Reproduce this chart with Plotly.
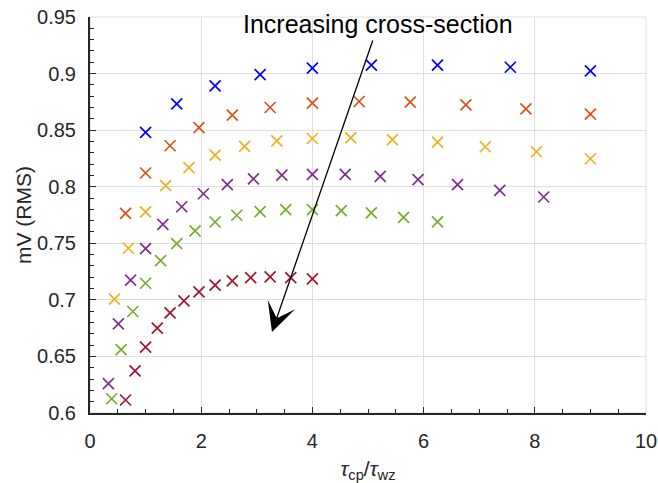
import plotly.graph_objects as go

# Signal level (mV RMS) against the ratio tau_cp / tau_wz, one series per cross-section
x_blue = [1.0, 1.56, 2.25, 3.06, 4.0, 5.06, 6.25, 7.56, 9.0]
y_blue = [0.848, 0.8733, 0.8891, 0.8991, 0.9048, 0.9074, 0.9074, 0.9056, 0.9024]

x_orange = [0.64, 1.0, 1.44, 1.96, 2.56, 3.24, 4.0, 4.84, 5.76, 6.76, 7.84, 9.0]
y_orange = [0.7765, 0.8121, 0.8362, 0.8523, 0.8633, 0.870, 0.8739, 0.8753, 0.8748, 0.8724, 0.8688, 0.8642]

x_yellow = [0.44, 0.69, 1.0, 1.36, 1.78, 2.25, 2.78, 3.36, 4.0, 4.69, 5.44, 6.25, 7.11, 8.03, 9.0]
y_yellow = [0.7006, 0.7456, 0.7777, 0.8009, 0.8168, 0.828, 0.8356, 0.8406, 0.8426, 0.8432, 0.8417, 0.8394, 0.8353, 0.8309, 0.8247]

x_purple = [0.33, 0.51, 0.73, 1.0, 1.31, 1.65, 2.04, 2.47, 2.94, 3.45, 4.0, 4.59, 5.22, 5.9, 6.61, 7.37, 8.16]
y_purple = [0.6259, 0.6788, 0.7174, 0.7453, 0.7668, 0.7823, 0.7938, 0.8018, 0.807, 0.8103, 0.8109, 0.8109, 0.8091, 0.8062, 0.8018, 0.7967, 0.7909]

x_green = [0.39, 0.56, 0.77, 1.0, 1.27, 1.56, 1.89, 2.25, 2.64, 3.06, 3.52, 4.0, 4.52, 5.06, 5.64, 6.25]
y_green = [0.6126, 0.6561, 0.6897, 0.7147, 0.7347, 0.7497, 0.7609, 0.7688, 0.7748, 0.7779, 0.7797, 0.7797, 0.7788, 0.7768, 0.7729, 0.7689]

x_red = [0.64, 0.81, 1.0, 1.21, 1.44, 1.69, 1.96, 2.25, 2.56, 2.89, 3.24, 3.61, 4.0]
y_red = [0.6115, 0.6373, 0.6583, 0.675, 0.6885, 0.6991, 0.7071, 0.713, 0.7168, 0.7197, 0.7203, 0.7197, 0.7186]

series = [
    (x_blue, y_blue, "#0000FF"),
    (x_orange, y_orange, "#D95319"),
    (x_yellow, y_yellow, "#EDB120"),
    (x_purple, y_purple, "#7E2F8E"),
    (x_green, y_green, "#77AC30"),
    (x_red, y_red, "#A2142F"),
]

x_ticks = [0, 2, 4, 6, 8, 10]
y_ticks = [0.6, 0.65, 0.7, 0.75, 0.8, 0.85, 0.9, 0.95]

FONT = "Arial, 'Liberation Sans', Helvetica, sans-serif"
AX = "#262626"
GRID = "#dfdfdf"

fig = go.Figure()
for xs, ys, col in series:
    fig.add_trace(go.Scatter(
        x=xs, y=ys, mode="markers",
        marker=dict(symbol="x-thin", size=11, line=dict(color=col, width=1.7)),
        showlegend=False,
    ))

common = dict(
    showline=True, linecolor=AX, linewidth=2,
    ticks="inside", ticklen=6, tickwidth=1.3, tickcolor=AX,
    showgrid=True, gridcolor=GRID, gridwidth=1,
    zeroline=False, mirror=False, automargin=False,
    tickfont=dict(family=FONT, size=20, color=AX),
)

fig.update_xaxes(
    range=[0, 10], tickvals=x_ticks, ticktext=[str(v) for v in x_ticks],
    minor=dict(dtick=0.5, tick0=0, ticks="inside", ticklen=4, tickcolor=AX, tickwidth=1.3, showgrid=False),
    ticklabelstandoff=9,
    title=dict(text="<i>τ</i><sub>cp</sub>/<i>τ</i><sub>wz</sub>",
               font=dict(family=FONT, size=21, color=AX), standoff=16),
    **common,
)
fig.update_yaxes(
    range=[0.6, 0.95], tickvals=y_ticks, ticktext=[f"{v:g}" for v in y_ticks],
    minor=dict(dtick=0.01, tick0=0.6, ticks="inside", ticklen=4, tickcolor=AX, tickwidth=1.3, showgrid=False),
    ticklabelstandoff=8,
    title=dict(text="mV (RMS)", font=dict(family=FONT, size=21, color=AX), standoff=0),
    **common,
)

# light frame on the top and right edges of the plot area
fig.add_shape(type="rect", xref="paper", yref="paper", x0=0, x1=1, y0=0, y1=1,
              line=dict(color=GRID, width=1), layer="below")

# trend arrow and its label
fig.add_annotation(
    x=3.273, y=0.6717, xref="x", yref="y",
    ax=5.095, ay=0.9305, axref="x", ayref="y",
    text="", showarrow=True, arrowhead=3, arrowsize=3.7, arrowwidth=1.3,
    arrowcolor="black", standoff=0, startstandoff=0,
)
fig.add_annotation(
    x=0.5175, y=0.9833, xref="paper", yref="paper",
    text="Increasing cross-section", showarrow=False,
    xanchor="center", yanchor="middle",
    font=dict(family=FONT, size=25, color="black"),
)

fig.update_layout(
    width=658, height=483,
    margin=dict(l=90, r=12, t=17, b=70),
    paper_bgcolor="white", plot_bgcolor="white",
    font=dict(family=FONT, color=AX),
)

fig.write_html("out.html")
